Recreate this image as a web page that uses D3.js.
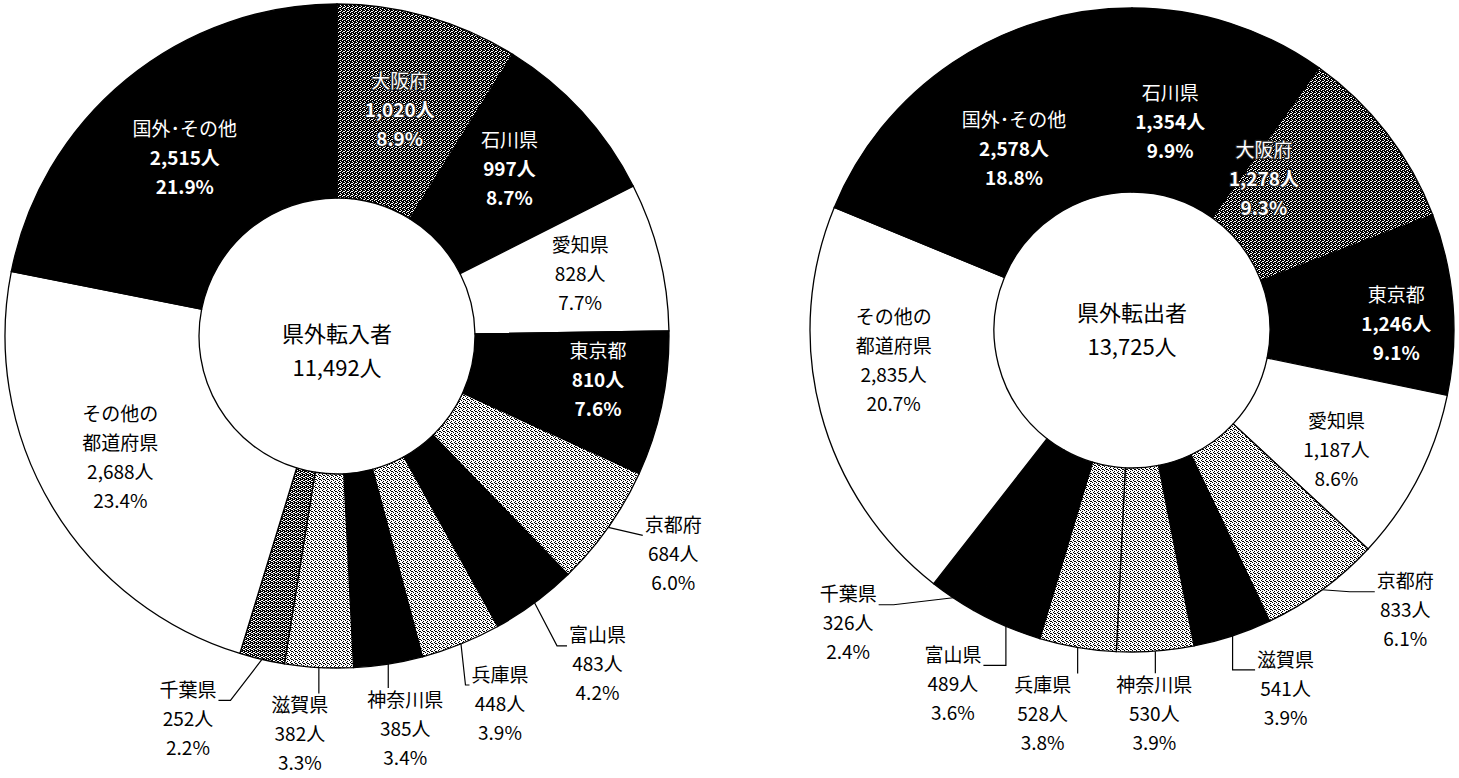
<!DOCTYPE html>
<html>
<head>
<meta charset="utf-8">
<script src="https://cdn.jsdelivr.net/npm/d3@7"></script>
<style>
  body { margin: 0; background: #fff; }
  text { font-family: "Noto Sans CJK JP", "Noto Sans", sans-serif; }
</style>
</head>
<body>
<svg id="chart" width="1459" height="778"></svg>
<script>
// ---- data: 県外転入者 (left) ----
var inNames = ['大阪府', '石川県', '愛知県', '東京都', '京都府', '富山県', '兵庫県', '神奈川県', '滋賀県', '千葉県', 'その他の|都道府県', '国外･その他'];
var inValues = [1020, 997, 828, 810, 684, 483, 448, 385, 382, 252, 2688, 2515];
var inPercents = ['8.9%', '8.7%', '7.7%', '7.6%', '6.0%', '4.2%', '3.9%', '3.4%', '3.3%', '2.2%', '23.4%', '21.9%'];
var inTitle = ['県外転入者', '11,492人'];

// ---- data: 県外転出者 (right) ----
var outNames = ['石川県', '大阪府', '東京都', '愛知県', '京都府', '滋賀県', '神奈川県', '兵庫県', '富山県', '千葉県', 'その他の|都道府県', '国外･その他'];
var outValues = [1354, 1278, 1246, 1187, 833, 541, 530, 528, 489, 326, 2835, 2578];
var outPercents = ['9.9%', '9.3%', '9.1%', '8.6%', '6.1%', '3.9%', '3.9%', '3.8%', '3.6%', '2.4%', '20.7%', '18.8%'];
var outTitle = ['県外転出者', '13,725人'];

// slice fills (style)
var inFills = ['dark', 'black', 'white', 'black', 'light', 'black', 'light', 'black', 'light', 'mid', 'white', 'black'];
var outFills = ['black', 'dark', 'black', 'white', 'light', 'black', 'light', 'light', 'black', 'black', 'white', 'black'];

// label layout: inside -> offset of block centre from centroid;
// outside -> offset of first line centre from outer arc point
var inLayout = [
    { dx: -2, dy: 0 }, { dx: -1, dy: -8 }, { dx: 15, dy: -5 }, { dx: 31, dy: -4 },
    { out: true, dx: 65, dy: -2, attach: 'left', stub: 0 },
    { out: true, dx: 63, dy: 33, attach: 'left', stub: 10 },
    { out: true, dx: 39, dy: 31, attach: 'left', stub: 4 },
    { out: true, dx: 17, dy: 36, attach: 'top' },
    { out: true, dx: -19, dy: 38, attach: 'top' },
    { out: true, dx: -74, dy: 31, attach: 'right', stub: 12 },
    { dx: -15, dy: 1 }, { dx: -3, dy: 4 }
];
var outLayout = [
    { dx: -32, dy: 11 }, { dx: -50, dy: -10 }, { dx: 35, dy: 13 }, { dx: 0, dy: 15 },
    { out: true, dx: 83, dy: -8, attach: 'left', stub: 25 },
    { out: true, dx: 53, dy: 24, attach: 'left', stub: 'v' },
    { out: true, dx: -1, dy: 34, attach: 'top' },
    { out: true, dx: -35, dy: 38, attach: 'top' },
    { out: true, dx: -53, dy: 29, attach: 'right', stub: 'v' },
    { out: true, dx: -105, dy: -3, attach: 'right', stub: 15 },
    { dx: -16, dy: -28 }, { dx: 10, dy: 10 }
];

var svg = d3.select('#chart');
var defs = svg.append('defs');

// dithered greys like the scanned original
function addPattern(id, base, dotColor, dots) {
    var p = defs.append('pattern').attr('id', id)
        .attr('patternUnits', 'userSpaceOnUse').attr('width', 4).attr('height', 4);
    p.append('rect').attr('width', 4).attr('height', 4).attr('fill', base);
    dots.forEach(function (d) {
        p.append('rect').attr('x', d[0]).attr('y', d[1]).attr('width', 1).attr('height', 1).attr('fill', dotColor);
    });
}
addPattern('light', '#fff', '#000', [[0, 0], [2, 1], [1, 2], [3, 3], [2, 3]]);
addPattern('dark', '#000', '#fff', [[1, 0], [3, 1], [0, 2], [2, 3], [3, 3]]);
addPattern('mid', '#000', '#fff', [[1, 0], [3, 1], [0, 2], [2, 3], [2, 1], [0, 0]]);

function fillOf(f) {
    if (f === 'black') return '#000';
    if (f === 'white') return '#fff';
    return 'url(#' + f + ')';
}

function donut(cfg) {
    var g = svg.append('g').attr('transform', 'translate(' + cfg.cx + ',' + cfg.cy + ')');
    var data = cfg.names.map(function (n, i) { return { name: n, value: cfg.values[i], pct: cfg.percents[i] }; });
    var pie = d3.pie().sort(null).value(function (d) { return d.value; }).startAngle(0).endAngle(2 * Math.PI);
    var arcs = pie(data);
    var arc = d3.arc().innerRadius(cfg.r0).outerRadius(cfg.r1);

    g.selectAll('path.slice').data(arcs).enter().append('path')
        .attr('class', 'slice')
        .attr('d', arc)
        .attr('fill', function (d) { return fillOf(cfg.fills[d.index]); })
        .attr('stroke', '#000')
        .attr('stroke-width', 1.3);

    // centre title
    g.selectAll('text.title').data(cfg.title).enter().append('text')
        .attr('class', 'title')
        .attr('x', 0).attr('y', function (d, i) { return cfg.titleY + i * 34; })
        .attr('text-anchor', 'middle')
        .style('font-size', '22px')
        .text(function (d) { return d; });

    var lh = 29;
    arcs.forEach(function (a) {
        var lay = cfg.layout[a.index];
        var lines = a.data.name.split('|').concat([d3.format(',')(a.data.value) + '人', a.data.pct]);
        var f = cfg.fills[a.index];
        var inverse = !lay.out && (f === 'black' || f === 'dark');
        var mid = (a.startAngle + a.endAngle) / 2;
        var x0, y0, anchorPt;
        if (lay.out) {
            anchorPt = [Math.sin(mid) * cfg.r1, -Math.cos(mid) * cfg.r1];
            x0 = anchorPt[0] + lay.dx;
            y0 = anchorPt[1] + lay.dy;
        } else {
            var c = arc.centroid(a);
            x0 = c[0] + lay.dx;
            y0 = c[1] + lay.dy - (lines.length - 1) * lh / 2;
        }
        var t = g.append('text').attr('text-anchor', 'middle').style('font-size', '19px')
            .attr('fill', inverse ? '#fff' : '#000');
        lines.forEach(function (s, k) {
            var isNum = k >= lines.length - 2;
            t.append('tspan')
                .attr('x', x0).attr('y', y0 + k * lh)
                .attr('dy', '0.35em')
                .style('font-weight', (isNum && inverse) ? 'bold' : 'normal')
                .text(s);
        });
        if (!lay.out && f === 'dark') {
            t.attr('stroke', '#222').attr('stroke-width', 2.4)
                .attr('stroke-linejoin', 'round').style('paint-order', 'stroke');
        }
        if (lay.out) {
            var w = t.select('tspan').node().getComputedTextLength();
            var pts;
            var base = y0 + 10;
            if (lay.attach === 'left') {
                var ex = x0 - w / 2 - 2;
                var lx = lay.stub === 'v' ? anchorPt[0] : ex - lay.stub;
                pts = [anchorPt, [lx, base], [ex, base]];
            } else if (lay.attach === 'right') {
                var rx = x0 + w / 2 + 2;
                var rx2 = lay.stub === 'v' ? anchorPt[0] : rx + lay.stub;
                pts = [anchorPt, [rx2, base], [rx, base]];
            } else {
                pts = [anchorPt, [anchorPt[0], y0 - 12]];
            }
            g.append('path')
                .attr('d', d3.line()(pts))
                .attr('fill', 'none')
                .attr('stroke', '#000')
                .attr('stroke-width', 1.2);
        }
    });
}

donut({ cx: 337, cy: 336, r0: 138, r1: 332, titleY: 6, names: inNames, values: inValues, percents: inPercents, fills: inFills, layout: inLayout, title: inTitle });
donut({ cx: 1132, cy: 330, r0: 138, r1: 322, titleY: -9, names: outNames, values: outValues, percents: outPercents, fills: outFills, layout: outLayout, title: outTitle });
</script>
</body>
</html>
